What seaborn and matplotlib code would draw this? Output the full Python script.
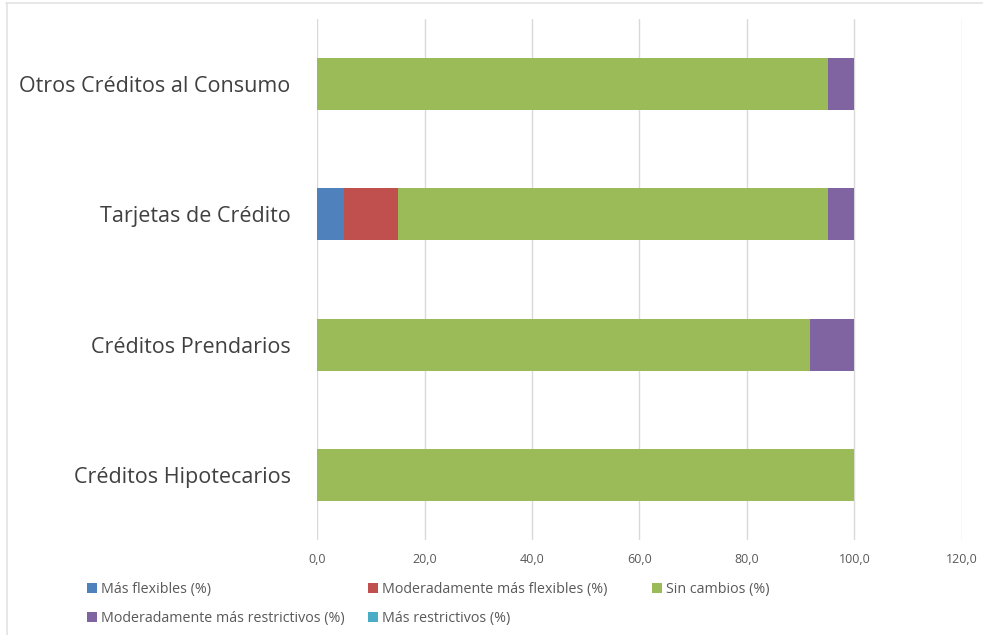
import matplotlib
matplotlib.use("Agg")
import matplotlib.pyplot as plt
import seaborn as sns
import pandas as pd
import numpy as np
from matplotlib.lines import Line2D
from matplotlib.patches import Patch

categorias = ["Otros Créditos al Consumo", "Tarjetas de Crédito",
              "Créditos Prendarios", "Créditos Hipotecarios"]
series = ["Más flexibles (%)", "Moderadamente más flexibles (%)", "Sin cambios (%)",
          "Moderadamente más restrictivos (%)", "Más restrictivos (%)"]
mas_flexibles = [0.0, 5.0, 0.0, 0.0]
mod_flexibles = [0.0, 10.0, 0.0, 0.0]
sin_cambios = [95.0, 80.0, 91.7, 100.0]
mod_restrictivos = [5.0, 5.0, 8.3, 0.0]
mas_restrictivos = [0.0, 0.0, 0.0, 0.0]
colores = ["#4F81BD", "#C0504D", "#9BBB59", "#8064A2", "#4BACC6"]
xticks = [0, 20, 40, 60, 80, 100, 120]

sns.set_theme(style="white")
plt.rcParams["font.family"] = ["Open Sans", "DejaVu Sans"]

valores = np.array([mas_flexibles, mod_flexibles, sin_cambios,
                    mod_restrictivos, mas_restrictivos])
acumulado = valores.cumsum(axis=0)

fig = plt.figure(figsize=(9.83, 6.35), dpi=100)
ax = fig.add_axes([0.3225, 0.1496, 0.6561, 0.8204])

# stacked bars: draw cumulative totals from the outermost layer inwards
for i in reversed(range(len(series))):
    df = pd.DataFrame({"categoria": categorias, "valor": acumulado[i]})
    sns.barplot(data=df, x="valor", y="categoria", orient="h", color=colores[i],
                width=0.4, saturation=1, ax=ax, zorder=3)
for p in ax.patches:
    p.set_linewidth(0)

ax.set_xlim(0, 120)
ax.set_xticks(xticks)
ax.set_xticklabels([f"{v:.1f}".replace(".", ",") for v in xticks],
                   fontsize=9, color="#595959")
ax.set_xlabel("")
ax.set_ylabel("")
ax.tick_params(axis="y", labelsize=15.5, labelcolor="#404040", length=0, pad=19)
ax.tick_params(axis="x", length=0, pad=9)
ax.grid(axis="x", color="#D9D9D9", linewidth=1, zorder=0)
for s in ax.spines.values():
    s.set_visible(False)

# Excel-style legend: equal-width columns, filled row by row
handles = [Patch(facecolor=c, edgecolor="none") for c in colores]
columnas = [[0, 3], [1, 4], [2]]
x_col = [0.0885, 0.3744, 0.6633]
for idx, x0 in zip(columnas, x_col):
    fig.legend([handles[i] for i in idx], [series[i] for i in idx],
               loc="upper left", bbox_to_anchor=(x0, 0.083),
               frameon=False, fontsize=10.3, labelcolor="#595959",
               handlelength=0.7, handleheight=0.7, handletextpad=0.25,
               labelspacing=0.95, borderpad=0, borderaxespad=0)

# chart area border
fig.add_artist(Line2D([0.006, 1.0], [0.996, 0.996], color="#E3E3E3", lw=1.2))
fig.add_artist(Line2D([0.007, 0.007], [0.0, 0.996], color="#E3E3E3", lw=1.2))

fig.savefig("out.png", dpi=100, facecolor="white")
